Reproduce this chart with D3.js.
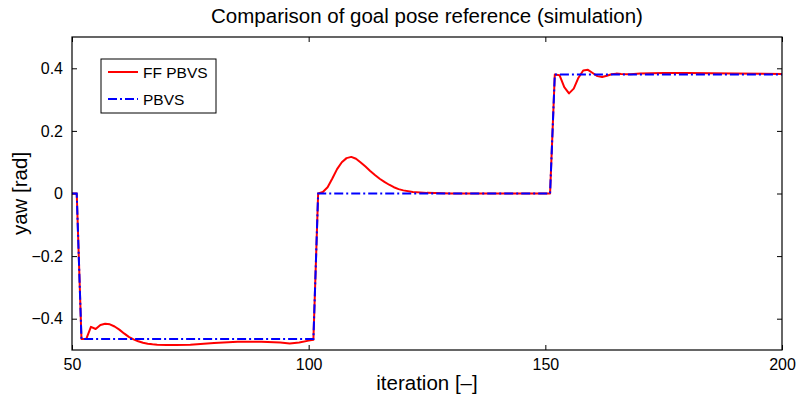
<!DOCTYPE html>
<html>
<head>
<meta charset="utf-8">
<script src="https://cdn.jsdelivr.net/npm/d3@7"></script>
<style>
  body { margin: 0; background: #fff; }
  text { font-family: "Liberation Sans", Arial, sans-serif; fill: #000; }
</style>
</head>
<body>
<svg width="798" height="401"></svg>
<script>
// PBVS reference (step changes)
const pbvsIter = [50, 51, 52, 101, 102, 151, 152, 200];
const pbvsYaw  = [0, 0, -0.465, -0.465, 0, 0, 0.38, 0.38];

// FF PBVS response
const ffIter = [50, 51, 52, 53, 54, 55, 56, 57, 58, 59, 60, 61, 62, 63, 64, 65, 66, 67, 68, 70, 72, 75, 80, 85, 90, 94, 96, 98, 100, 101,
  102, 103, 104, 105, 106, 107, 108, 109, 110, 111, 112, 113, 114, 115, 116, 117, 118, 119, 120, 122, 125, 130, 140, 151,
  152, 153, 154, 155, 156, 157, 158, 159, 160, 161, 162, 163, 164, 165, 166, 168, 170, 175, 180, 185, 190, 200];
const ffYaw = [0, 0, -0.465, -0.465, -0.426, -0.433, -0.42, -0.416, -0.418, -0.425, -0.435, -0.447, -0.458, -0.466, -0.472, -0.477, -0.48, -0.482, -0.483, -0.484, -0.484, -0.483, -0.478, -0.474, -0.474, -0.476, -0.479, -0.476, -0.47, -0.467,
  0, 0.005, 0.02, 0.048, 0.078, 0.1, 0.113, 0.117, 0.111, 0.099, 0.086, 0.072, 0.059, 0.047, 0.037, 0.028, 0.02, 0.014, 0.01, 0.005, 0.002, 0, 0, 0,
  0.38, 0.378, 0.34, 0.32, 0.335, 0.37, 0.393, 0.395, 0.385, 0.375, 0.372, 0.376, 0.381, 0.383, 0.382, 0.381, 0.383, 0.385, 0.385, 0.384, 0.383, 0.382];

const xTicks = [50, 100, 150, 200];
const yTicks = [-0.4, -0.2, 0, 0.2, 0.4];

const svg = d3.select("svg");
const margin = {top: 37, right: 16, bottom: 51, left: 72};
const width = +svg.attr("width");
const height = +svg.attr("height");
const innerWidth = width - margin.left - margin.right;
const innerHeight = height - margin.top - margin.bottom;

const x = d3.scaleLinear().domain([50, 200]).range([0, innerWidth]);
const y = d3.scaleLinear().domain([-0.5, 0.5]).range([innerHeight, 0]);

const g = svg.append("g").attr("transform", `translate(${margin.left},${margin.top})`);

const fmt = d => d === 0 ? "0" : (d < 0 ? "\u2212" + Math.abs(d) : "" + d);

// axes with inward ticks (both sides)
g.append("g").attr("transform", `translate(0,${innerHeight})`)
  .call(d3.axisBottom(x).tickValues(xTicks).tickSizeInner(-5).tickSizeOuter(0).tickPadding(9))
  .call(a => a.selectAll("text").attr("font-size", 16));
g.append("g")
  .call(d3.axisTop(x).tickValues(xTicks).tickSizeInner(-5).tickSizeOuter(0))
  .call(a => a.selectAll("text").remove());
g.append("g")
  .call(d3.axisLeft(y).tickValues(yTicks).tickFormat(fmt).tickSizeInner(-5).tickSizeOuter(0).tickPadding(9))
  .call(a => a.selectAll("text").attr("font-size", 16));
g.append("g").attr("transform", `translate(${innerWidth},0)`)
  .call(d3.axisRight(y).tickValues(yTicks).tickSizeInner(-5).tickSizeOuter(0))
  .call(a => a.selectAll("text").remove());
g.selectAll(".domain").remove();
g.selectAll(".tick line").attr("stroke", "#000");

const line = d3.line().x(d => x(d[0])).y(d => y(d[1]));

const plot = g.append("g");

plot.append("path")
  .datum(ffIter.map((d, i) => [d, ffYaw[i]]))
  .attr("d", line)
  .attr("fill", "none")
  .attr("stroke", "#ff0000")
  .attr("stroke-width", 2)
  .attr("stroke-linejoin", "round");

plot.append("path")
  .datum(pbvsIter.map((d, i) => [d, pbvsYaw[i]]))
  .attr("d", line)
  .attr("fill", "none")
  .attr("stroke", "#0000ff")
  .attr("stroke-width", 2)
  .attr("stroke-dasharray", "9,3,2,3");

// box
g.append("rect")
  .attr("width", innerWidth).attr("height", innerHeight)
  .attr("fill", "none").attr("stroke", "#000").attr("stroke-width", 1.2);

// legend
const legend = svg.append("g").attr("transform", "translate(101,59)");
legend.append("rect").attr("width", 115).attr("height", 54)
  .attr("fill", "#fff").attr("stroke", "#000").attr("stroke-width", 1);
const legendItems = [
  {label: "FF PBVS", color: "#ff0000", dash: null},
  {label: "PBVS", color: "#0000ff", dash: "9,3,2,3"}
];
legendItems.forEach((d, i) => {
  const yy = 13 + i * 27;
  legend.append("line").attr("x1", 7).attr("x2", 37).attr("y1", yy).attr("y2", yy)
    .attr("stroke", d.color).attr("stroke-width", 2)
    .attr("stroke-dasharray", d.dash);
  legend.append("text").attr("x", 42).attr("y", yy + 6).attr("font-size", 15.5).text(d.label);
});

// title and labels
svg.append("text").attr("x", margin.left + innerWidth / 2).attr("y", 23)
  .attr("text-anchor", "middle").attr("font-size", 20.5)
  .text("Comparison of goal pose reference (simulation)");
svg.append("text").attr("x", margin.left + innerWidth / 2).attr("y", 390)
  .attr("text-anchor", "middle").attr("font-size", 20.5)
  .text("iteration [\u2013]");
svg.append("text")
  .attr("transform", `translate(27,${margin.top + innerHeight / 2}) rotate(-90)`)
  .attr("text-anchor", "middle").attr("font-size", 20.5)
  .text("yaw [rad]");
</script>
</body>
</html>
